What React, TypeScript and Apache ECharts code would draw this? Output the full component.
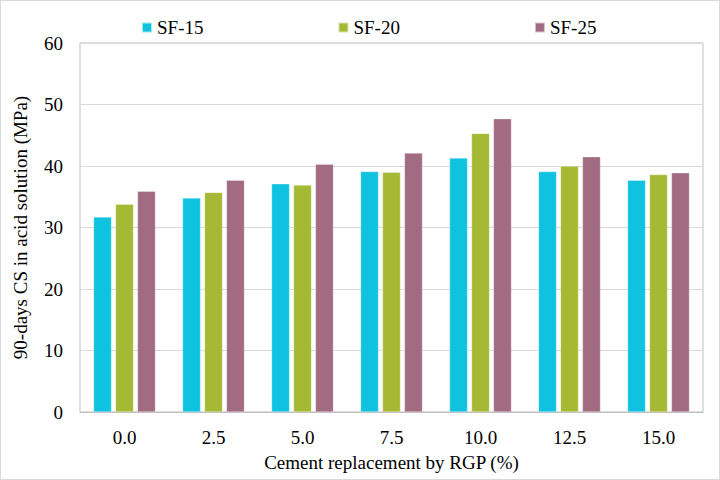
import React, { useEffect, useRef } from "react";
import * as echarts from "echarts";

const categories = ["0.0", "2.5", "5.0", "7.5", "10.0", "12.5", "15.0"];
const sf15 = [31.7, 34.8, 37.1, 39.1, 41.3, 39.1, 37.7];
const sf20 = [33.8, 35.7, 36.9, 39.0, 45.3, 40.0, 38.6];
const sf25 = [35.9, 37.7, 40.3, 42.1, 47.7, 41.5, 38.9];
const seriesNames = ["SF-15", "SF-20", "SF-25"];
const colors = ["#0FC3E0", "#A5B935", "#A26B82"];

const FONT = "'Liberation Serif', 'Times New Roman', serif";

export default function App() {
  const ref = useRef<HTMLDivElement>(null);
  useEffect(() => {
    document.body.style.margin = "0";
    const chart = echarts.init(ref.current!, null, { renderer: "svg" });
    const data = [sf15, sf20, sf25];
    chart.setOption({
      animation: false,
      backgroundColor: "#ffffff",
      textStyle: { fontFamily: FONT, color: "#000" },
      legend: {
        top: 12,
        left: 135,
        itemWidth: 10,
        itemHeight: 10,
        itemGap: 134,
        icon: "rect",
        textStyle: { fontFamily: FONT, fontSize: 19, color: "#000" },
        data: seriesNames,
      },
      grid: {
        left: 79,
        right: 16,
        top: 42,
        bottom: 67,
        show: true,
        borderColor: "#bfbfbf",
        borderWidth: 1,
        containLabel: false,
      },
      xAxis: {
        type: "category",
        data: categories,
        name: "Cement replacement by RGP (%)",
        nameLocation: "middle",
        nameGap: 41,
        nameTextStyle: { fontFamily: FONT, fontSize: 19, color: "#000" },
        axisLine: { lineStyle: { color: "#bfbfbf" } },
        axisTick: { show: false },
        axisLabel: { fontFamily: FONT, fontSize: 19, color: "#000", margin: 16 },
      },
      yAxis: {
        type: "value",
        min: 0,
        max: 60,
        interval: 10,
        name: "90-days CS in acid solution (MPa)",
        nameLocation: "middle",
        nameGap: 50,
        nameTextStyle: { fontFamily: FONT, fontSize: 19, color: "#000" },
        axisLine: { show: false },
        axisTick: { show: false },
        axisLabel: { fontFamily: FONT, fontSize: 19, color: "#000", margin: 17 },
        splitLine: { lineStyle: { color: "#d9d9d9", width: 1 } },
      },
      series: seriesNames.map((name, i) => ({
        name,
        type: "bar",
        data: data[i],
        barWidth: 18,
        barGap: "22%",
        itemStyle: { color: colors[i], borderColor: "rgba(255,255,255,0.6)", borderWidth: 0.5 },
      })),
    });
    return () => chart.dispose();
  }, []);
  return (
    <div
      style={{
        position: "fixed",
        left: 0,
        top: 0,
        width: 720,
        height: 480,
        boxSizing: "border-box",
        border: "1px solid #d9d9d9",
        background: "#fff",
      }}
    >
      <div ref={ref} style={{ width: 718, height: 478 }} />
    </div>
  );
}
